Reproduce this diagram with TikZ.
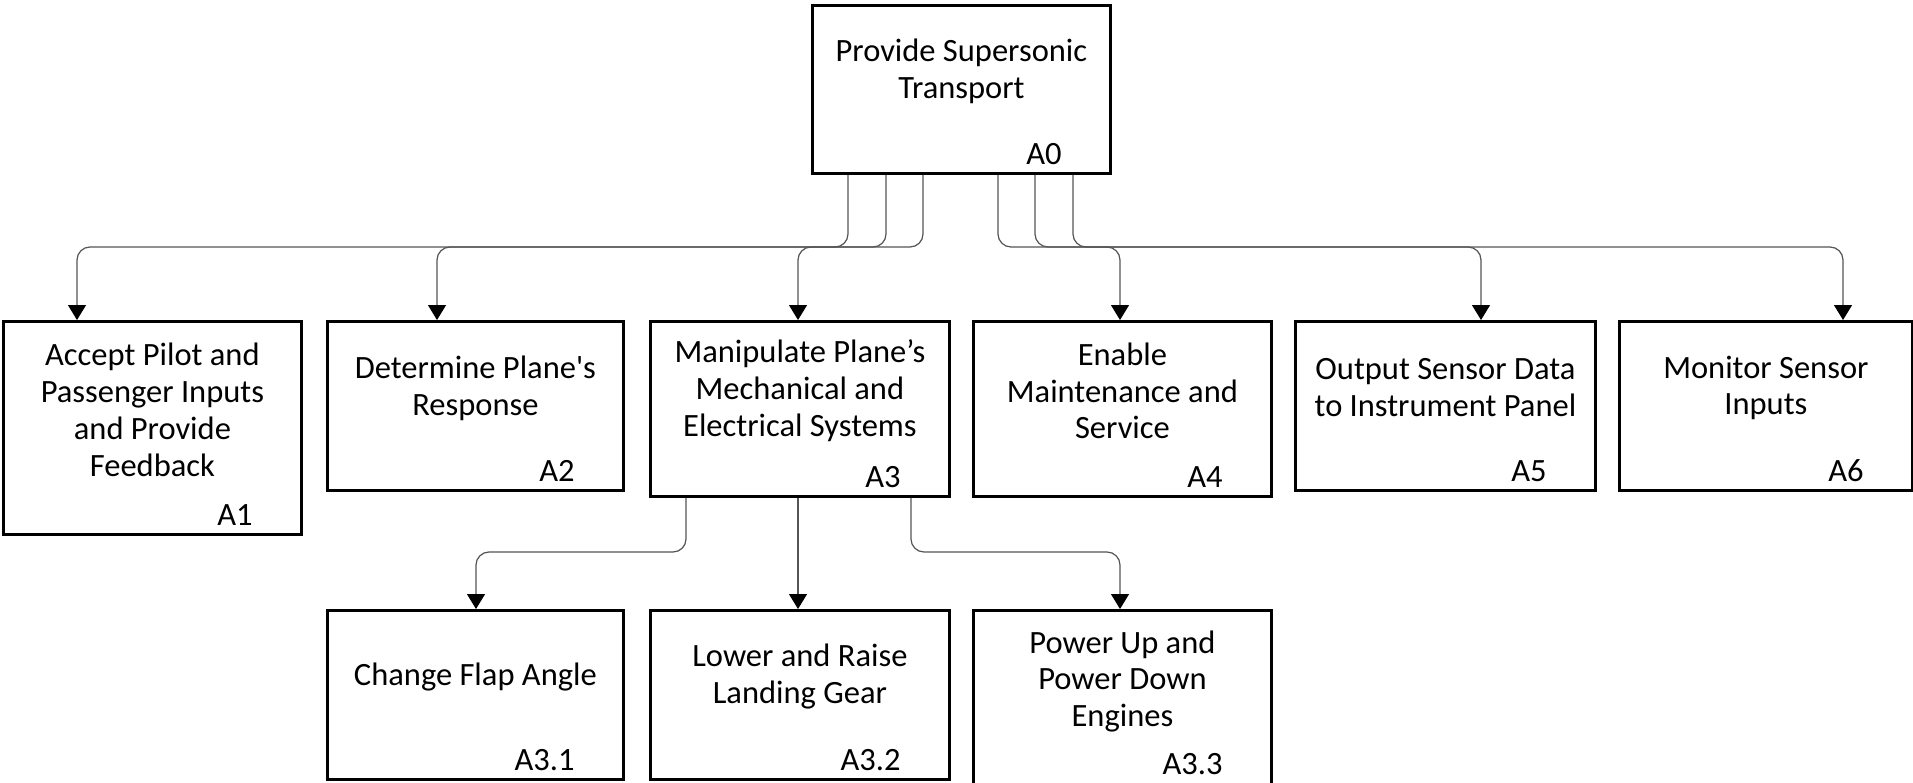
\documentclass[tikz,border=0pt]{standalone}
\usepackage{fontspec}
\setmainfont{Carlito}[Ligatures=TeXOff]
\usepackage{tikz}
\usetikzlibrary{arrows.meta,calc}
\definecolor{linkgray}{RGB}{85,85,85}

\tikzset{
  fbox/.style={draw=black, line width=1.6pt, anchor=north west, inner sep=0pt, minimum width=5.96cm},
  ftext/.style={font=\fontsize{18.5}{21}\selectfont, align=center},
  fid/.style={font=\fontsize{18.5}{21}\selectfont, anchor=base east},
  link/.style={draw=linkgray, line width=0.7pt, rounded corners=0.26cm,
    -{Triangle[width=0.36cm,length=0.3cm,color=black]}}
}

\begin{document}
\begin{tikzpicture}
    \useasboundingbox (0,0) rectangle (38.26,-15.64);

    % Top level function
    \node[fbox, minimum height=3.36cm] (a0) at (16.22,-0.08) {};
    \node[ftext] (a0t) at ($(a0.center)+(0,0.36)$) {Provide Supersonic\\Transport};
    \node[fid] (a0id) at ($(a0.south east)+(-0.88,0.2)$) {A0};

    % First level functions
    \node[fbox, minimum height=4.26cm] (a1) at (0.04,-6.40) {};
    \node[fbox, minimum width=5.92cm, minimum height=3.38cm] (a2) at (6.52,-6.40) {};
    \node[fbox, minimum width=5.98cm, minimum height=3.50cm] (a3) at (12.98,-6.40) {};
    \node[fbox, minimum height=3.50cm] (a4) at (19.44,-6.40) {};
    \node[fbox, minimum width=6.00cm, minimum height=3.38cm] (a5) at (25.88,-6.40) {};
    \node[fbox, minimum width=5.86cm, minimum height=3.38cm] (a6) at (32.36,-6.40) {};

    % Second level functions under A3
    \node[fbox, minimum width=5.92cm, minimum height=3.38cm] (a31) at (6.52,-12.18) {};
    \node[fbox, minimum width=5.98cm, minimum height=3.38cm] (a32) at (12.98,-12.18) {};
    \node[fbox, minimum height=3.56cm] (a33) at (19.44,-12.18) {};

    % Titles
    \node[ftext] (a1t) at ($(a1.center)+(0,0.36)$) {Accept Pilot and\\Passenger Inputs\\and Provide\\Feedback};
    \node[ftext] (a2t) at ($(a2.center)+(0,0.36)$) {Determine Plane's\\Response};
    \node[ftext] (a3t) at ($(a3.center)+(0,0.36)$) {Manipulate Plane’s\\Mechanical and\\Electrical Systems};
    \node[ftext] (a4t) at ($(a4.center)+(0,0.36)$) {Enable\\Maintenance and\\Service};
    \node[ftext] (a5t) at ($(a5.center)+(0,0.36)$) {Output Sensor Data\\to Instrument Panel};
    \node[ftext] (a6t) at ($(a6.center)+(0,0.36)$) {Monitor Sensor\\Inputs};
    \node[ftext] (a31t) at ($(a31.center)+(0,0.36)$) {Change Flap Angle};
    \node[ftext] (a32t) at ($(a32.center)+(0,0.36)$) {Lower and Raise\\Landing Gear};
    \node[ftext] (a33t) at ($(a33.center)+(0,0.36)$) {Power Up and\\Power Down\\Engines};

    % Function numbers
    \node[fid] (a1id) at ($(a1.south east)+(-0.88,0.2)$) {A1};
    \node[fid] (a2id) at ($(a2.south east)+(-0.88,0.2)$) {A2};
    \node[fid] (a3id) at ($(a3.south east)+(-0.88,0.2)$) {A3};
    \node[fid] (a4id) at ($(a4.south east)+(-0.88,0.2)$) {A4};
    \node[fid] (a5id) at ($(a5.south east)+(-0.88,0.2)$) {A5};
    \node[fid] (a6id) at ($(a6.south east)+(-0.88,0.2)$) {A6};
    \node[fid] (a31id) at ($(a31.south east)+(-0.88,0.2)$) {A3.1};
    \node[fid] (a32id) at ($(a32.south east)+(-0.88,0.2)$) {A3.2};
    \node[fid] (a33id) at ($(a33.south east)+(-0.88,0.30)$) {A3.3};

    % A0 decomposition
    \coordinate (bus) at (0,-4.94);
    \foreach \dst/\sx/\dx in {a1/0.74/1.50, a2/1.50/2.22, a3/2.24/2.98,
                               a4/3.74/2.96, a5/4.48/3.74, a6/5.24/4.50}
      \draw[link] ($(a0.south west)+(\sx,0)$) coordinate (s) -- (s |- bus) -| ($(\dst.north west)+(\dx,0)$);

    % A3 decomposition
    \coordinate (sub) at (0,-11.04);
    \draw[link] ($(a3.south west)+(0.74,0)$) coordinate (s) -- (s |- sub) -| ($(a31.north west)+(3.00,0)$);
    \draw[link] ($(a3.south west)+(2.98,0)$) coordinate (s) -- (s |- a32.north);
    \draw[link] ($(a3.south west)+(5.24,0)$) coordinate (s) -- (s |- sub) -| ($(a33.north west)+(2.96,0)$);
\end{tikzpicture}
\end{document}
